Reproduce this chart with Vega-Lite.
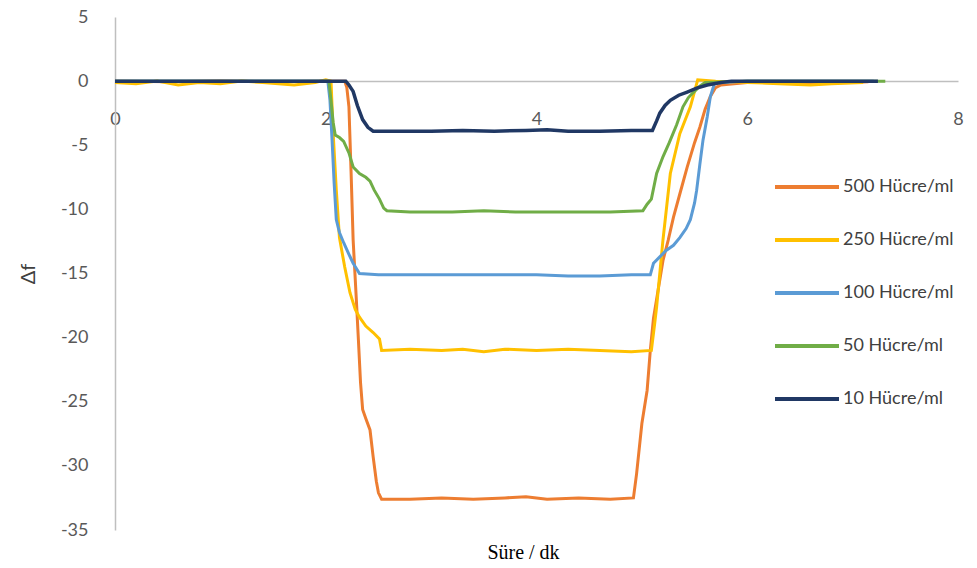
{
  "$schema": "https://vega.github.io/schema/vega-lite/v6.json",
  "width": 843,
  "height": 513,
  "autosize": {"type": "none"},
  "padding": {"left": 115, "top": 17, "right": 19, "bottom": 38},
  "background": "white",
  "config": {"view": {"stroke": null}},
  "datasets": {
    "d500": [[0,0],[0.5,-0.05],[1,0],[1.5,-0.05],[2,0],[2.18,0],[2.2,-0.5],[2.22,-2],[2.24,-7],[2.26,-12.4],[2.29,-17],[2.31,-20.2],[2.33,-23.5],[2.35,-25.6],[2.38,-26.3],[2.42,-27.2],[2.45,-29.3],[2.48,-31.2],[2.5,-32.1],[2.53,-32.6],[2.8,-32.6],[3.1,-32.5],[3.4,-32.6],[3.7,-32.5],[3.9,-32.4],[4.1,-32.6],[4.4,-32.5],[4.7,-32.6],[4.92,-32.5],[4.95,-30.6],[5.0,-26.7],[5.05,-24.1],[5.08,-21],[5.11,-18.5],[5.15,-16.5],[5.2,-14],[5.25,-12.4],[5.3,-10.6],[5.36,-8.8],[5.43,-6.7],[5.5,-4.8],[5.55,-3.6],[5.6,-2.2],[5.65,-1.2],[5.7,-0.5],[5.75,-0.3],[6,-0.1],[6.5,-0.15],[7,-0.1],[7.15,-0.05]],
    "d250": [[0,-0.1],[0.2,-0.2],[0.4,0],[0.6,-0.3],[0.8,-0.1],[1.0,-0.2],[1.2,0],[1.4,-0.1],[1.7,-0.3],[1.9,-0.1],[2.0,0.1],[2.05,0],[2.07,-4],[2.1,-8.5],[2.13,-12.2],[2.18,-14.5],[2.23,-16.5],[2.28,-17.8],[2.32,-18.4],[2.38,-19.1],[2.45,-19.6],[2.51,-20.1],[2.53,-21],[2.8,-20.9],[3.1,-21],[3.3,-20.9],[3.5,-21.1],[3.7,-20.9],[4.0,-21],[4.3,-20.9],[4.6,-21],[4.9,-21.1],[5.09,-21],[5.12,-19],[5.14,-17.6],[5.2,-12.4],[5.27,-7.2],[5.36,-4.1],[5.46,-2.0],[5.53,0.1],[5.7,0],[6.0,-0.1],[6.3,-0.2],[6.6,-0.3],[6.8,-0.2],[7.1,-0.1]],
    "d100": [[0,0],[1,0],[2.02,0],[2.04,-1.5],[2.06,-4.6],[2.08,-8],[2.1,-10.8],[2.13,-11.8],[2.17,-12.6],[2.22,-13.5],[2.26,-14.2],[2.32,-15.0],[2.5,-15.1],[3,-15.1],[3.5,-15.1],[4.0,-15.1],[4.3,-15.2],[4.6,-15.2],[4.9,-15.1],[5.08,-15.1],[5.11,-14.2],[5.17,-13.7],[5.23,-13.2],[5.3,-12.8],[5.36,-12.2],[5.42,-11.5],[5.46,-10.8],[5.5,-9.5],[5.52,-8.5],[5.55,-6.5],[5.58,-4.6],[5.62,-2.8],[5.65,-1.2],[5.69,-0.15],[6,0],[7.2,0]],
    "d50": [[0,0],[1,0],[2.03,0],[2.05,-1.5],[2.07,-3.2],[2.09,-4.2],[2.13,-4.4],[2.17,-4.7],[2.22,-5.6],[2.26,-6.7],[2.32,-7.2],[2.38,-7.5],[2.42,-7.8],[2.46,-8.5],[2.51,-9.2],[2.55,-9.9],[2.58,-10.1],[2.8,-10.2],[3.2,-10.2],[3.5,-10.1],[3.8,-10.2],[4.1,-10.2],[4.4,-10.2],[4.7,-10.2],[5.01,-10.1],[5.05,-9.6],[5.09,-9.2],[5.14,-7.2],[5.2,-5.9],[5.26,-4.8],[5.33,-3.4],[5.39,-2.0],[5.44,-1.3],[5.48,-0.95],[5.55,-0.4],[5.6,-0.1],[6,0],[7.31,0]],
    "d10": [[0,0],[1,0],[2,0],[2.19,0],[2.22,-0.3],[2.26,-0.8],[2.3,-1.9],[2.35,-3.0],[2.4,-3.6],[2.45,-3.9],[2.7,-3.9],[3.0,-3.9],[3.3,-3.85],[3.6,-3.9],[3.9,-3.85],[4.1,-3.8],[4.3,-3.9],[4.6,-3.9],[4.9,-3.85],[5.1,-3.85],[5.14,-3.1],[5.17,-2.5],[5.22,-1.9],[5.27,-1.5],[5.35,-1.1],[5.43,-0.85],[5.52,-0.55],[5.62,-0.3],[5.75,-0.1],[5.85,0],[7.24,0]]
  },
  "data": {"values": []},
  "layer": [
    {
      "data": {"name": "d500"},
      "transform": [{"calculate": "'500'", "as": "s"}, {"calculate": "datum[0]", "as": "t"}, {"calculate": "datum[1]", "as": "v"}],
      "mark": {"type": "line", "strokeWidth": 3},
      "encoding": {
        "x": {"field": "t", "type": "quantitative", "scale": {"domain": [0, 8]},
          "axis": {"values": [0,2,4,6,8], "labelExpr": "'' + datum.value", "labelFlush": false, "offset": -449, "ticks": false, "grid": false, "domainColor": "#bfbfbf", "domainWidth": 1.5,
            "labelFont": "Lato", "labelFontSize": 18, "labelColor": "#595959", "labelPadding": 29,
            "title": "Süre / dk", "titleFont": "Liberation Serif", "titleFontSize": 20, "titleFontWeight": "normal", "titleColor": "#000000",
            "titleX": 408, "titleY": 471, "titleBaseline": "middle"}},
        "y": {"field": "v", "type": "quantitative", "scale": {"domain": [-35, 5], "nice": false},
          "axis": {"values": [-35,-30,-25,-20,-15,-10,-5,0,5], "labelExpr": "'' + datum.value", "labelFlush": false, "ticks": false, "grid": false, "domainColor": "#bfbfbf", "domainWidth": 1.5,
            "labelFont": "Lato", "labelFontSize": 18, "labelColor": "#595959", "labelPadding": 27,
            "title": "Δf", "titleFont": "Lato", "titleFontSize": 20, "titleFontWeight": "normal", "titleColor": "#404040", "titlePadding": 22}},
        "color": {"field": "s", "type": "nominal",
          "scale": {"domain": ["500","250","100","50","10"], "range": ["#ED7D31","#FFC000","#5B9BD5","#70AD47","#203864"]},
          "legend": {"orient": "none", "legendX": 658, "legendY": 136, "title": null, "symbolType": "stroke", "symbolSize": 4096, "symbolStrokeWidth": 4,
            "labelExpr": "datum.label + ' Hücre/ml'", "labelFont": "Lato", "labelFontSize": 18, "labelColor": "#404040", "rowPadding": 10, "labelOffset": 2}}
      }
    },
    {
      "data": {"name": "d250"},
      "transform": [{"calculate": "'250'", "as": "s"}, {"calculate": "datum[0]", "as": "t"}, {"calculate": "datum[1]", "as": "v"}],
      "mark": {"type": "line", "strokeWidth": 3},
      "encoding": {"x": {"field": "t", "type": "quantitative"}, "y": {"field": "v", "type": "quantitative"}, "color": {"field": "s", "type": "nominal"}}
    },
    {
      "data": {"name": "d100"},
      "transform": [{"calculate": "'100'", "as": "s"}, {"calculate": "datum[0]", "as": "t"}, {"calculate": "datum[1]", "as": "v"}],
      "mark": {"type": "line", "strokeWidth": 3},
      "encoding": {"x": {"field": "t", "type": "quantitative"}, "y": {"field": "v", "type": "quantitative"}, "color": {"field": "s", "type": "nominal"}}
    },
    {
      "data": {"name": "d50"},
      "transform": [{"calculate": "'50'", "as": "s"}, {"calculate": "datum[0]", "as": "t"}, {"calculate": "datum[1]", "as": "v"}],
      "mark": {"type": "line", "strokeWidth": 3},
      "encoding": {"x": {"field": "t", "type": "quantitative"}, "y": {"field": "v", "type": "quantitative"}, "color": {"field": "s", "type": "nominal"}}
    },
    {
      "data": {"name": "d10"},
      "transform": [{"calculate": "'10'", "as": "s"}, {"calculate": "datum[0]", "as": "t"}, {"calculate": "datum[1]", "as": "v"}],
      "mark": {"type": "line", "strokeWidth": 3.5},
      "encoding": {"x": {"field": "t", "type": "quantitative"}, "y": {"field": "v", "type": "quantitative"}, "color": {"field": "s", "type": "nominal"}}
    }
  ]
}
